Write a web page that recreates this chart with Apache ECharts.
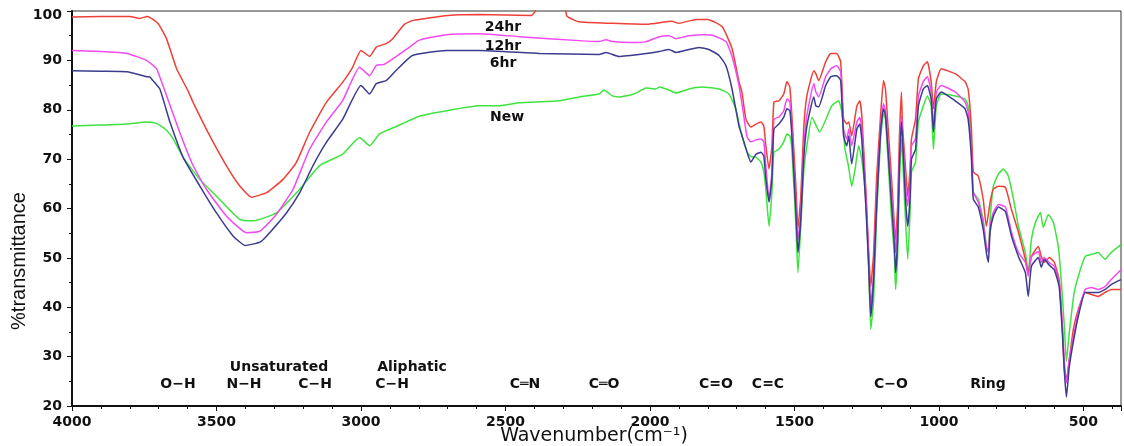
<!DOCTYPE html>
<html>
<head>
<meta charset="utf-8">
<script src="https://cdn.jsdelivr.net/npm/echarts@6/dist/echarts.min.js"></script>
<style>
  html, body { margin: 0; padding: 0; background: #fff; }
  #chart { width: 1124px; height: 446px; }
</style>
</head>
<body>
<div id="chart"></div>
<script>
// FTIR spectra: [wavenumber (cm-1), %transmittance]
const hr24 = [[4000,98.8],[3900,98.9],[3800,98.9],[3765,98.5],[3740,98.9],[3720,98.3],[3700,97.3],[3673,94.4],[3638,88.3],[3600,84.0],[3581,81.5],[3523,74.7],[3466,68.7],[3420,64.6],[3379,62.3],[3327,63.2],[3270,65.9],[3224,69.3],[3178,75.4],[3120,81.5],[3063,85.6],[3030,88.5],[3000,92.0],[2970,90.8],[2947,92.7],[2913,93.4],[2890,94.4],[2850,97.3],[2820,98.1],[2700,99.1],[2590,99.3],[2410,99.1],[2392,100.5],[2380,104],[2300,104],[2288,99.0],[2245,97.8],[2130,97.5],[2010,97.3],[1924,97.9],[1900,97.5],[1840,98.3],[1800,98.3],[1750,96.8],[1716,92.4],[1692,85.7],[1682,83.6],[1668,78.1],[1651,76.5],[1633,77.1],[1616,77.5],[1606,76.7],[1599,72.7],[1588,68.0],[1578,72.7],[1571,81.6],[1554,81.8],[1537,83.2],[1526,85.7],[1516,84.6],[1509,78.8],[1495,64.5],[1488,56.0],[1478,62.5],[1468,76.1],[1457,82.8],[1433,87.9],[1426,87.3],[1416,85.9],[1392,89.7],[1374,91.4],[1354,91.4],[1340,89.7],[1330,78.1],[1319,77.1],[1312,77.5],[1302,74.7],[1284,80.8],[1274,81.8],[1267,78.8],[1253,63.9],[1243,51.1],[1236,44.2],[1226,51.1],[1216,66.0],[1202,78.8],[1192,85.9],[1185,84.2],[1175,75.5],[1164,66.0],[1154,56.4],[1150,53.7],[1143,60.5],[1137,74.1],[1130,83.6],[1126,76.7],[1116,68.6],[1108,62.5],[1100,68.0],[1095,74.1],[1081,78.1],[1071,86.3],[1054,88.9],[1040,89.7],[1027,85.7],[1019,80.2],[1009,85.7],[992,88.3],[944,87.3],[910,85.7],[899,84.2],[888,76.7],[881,67.4],[864,66.6],[847,61.9],[836,56.4],[823,61.3],[812,63.9],[794,64.5],[770,64.3],[749,59.8],[725,55.2],[701,49.7],[691,47.0],[680,50.3],[656,52.3],[646,50.3],[635,49.1],[618,50.1],[601,49.1],[584,45.6],[573,36.1],[566,27.3],[559,25.3],[549,29.4],[535,35.5],[518,39.5],[494,43.0],[473,42.6],[449,42.2],[425,43.0],[404,43.6],[370,43.6]];

const hr12 = [[4000,92.0],[3900,91.8],[3810,91.4],[3742,90.0],[3720,89.0],[3707,88.3],[3673,82.9],[3627,75.4],[3581,68.7],[3535,63.9],[3466,58.5],[3396,55.1],[3350,55.4],[3293,58.8],[3235,63.9],[3178,72.0],[3120,77.5],[3063,81.9],[3005,88.6],[2970,86.9],[2947,89.0],[2920,89.2],[2890,90.3],[2832,92.7],[2798,94.1],[2704,95.2],[2590,95.4],[2452,94.8],[2245,94.0],[2176,93.8],[2152,94.2],[2130,93.8],[2062,93.6],[2013,93.8],[1968,94.8],[1934,95.0],[1910,94.4],[1865,95.0],[1813,95.2],[1779,95.0],[1737,93.8],[1716,90.8],[1692,84.9],[1678,79.8],[1664,74.5],[1651,73.5],[1633,73.9],[1616,74.1],[1606,73.5],[1599,68.6],[1588,61.9],[1578,67.4],[1571,78.1],[1554,78.5],[1537,79.8],[1526,82.2],[1516,81.6],[1509,76.1],[1495,60.5],[1488,53.7],[1478,59.2],[1468,72.0],[1457,78.8],[1433,85.3],[1426,83.6],[1416,82.6],[1392,86.7],[1374,88.3],[1354,88.9],[1340,87.7],[1330,76.1],[1319,74.1],[1312,76.1],[1302,72.7],[1284,77.5],[1274,78.5],[1267,76.0],[1253,62.5],[1243,50.0],[1236,40.1],[1226,47.0],[1216,62.0],[1202,76.7],[1192,81.2],[1185,79.8],[1175,72.0],[1164,63.0],[1154,55.2],[1150,51.1],[1143,57.2],[1137,70.0],[1130,78.8],[1126,75.5],[1116,65.0],[1108,60.5],[1100,66.0],[1095,72.7],[1081,74.1],[1071,82.8],[1054,85.7],[1040,86.7],[1027,83.6],[1019,76.7],[1009,83.6],[992,84.9],[944,83.6],[910,81.6],[899,79.6],[888,72.0],[881,63.3],[864,61.3],[847,57.2],[836,52.3],[829,51.1],[823,56.4],[812,59.2],[794,60.8],[770,60.3],[749,55.2],[725,51.1],[701,49.1],[691,46.3],[680,50.3],[656,51.3],[646,49.1],[635,50.1],[618,49.0],[601,48.3],[584,45.0],[573,36.1],[566,29.0],[559,24.7],[549,29.4],[535,34.0],[518,38.9],[494,43.6],[473,44.0],[449,43.6],[425,44.2],[404,45.6],[370,47.6]];

const hr6 = [[4000,87.9],[3900,87.8],[3810,87.7],[3742,86.7],[3730,86.6],[3720,85.9],[3696,84.2],[3661,77.5],[3615,70.3],[3558,64.6],[3500,59.1],[3442,54.4],[3400,52.5],[3350,53.2],[3327,54.4],[3258,59.1],[3212,63.2],[3166,68.7],[3120,73.4],[3063,78.1],[3000,84.9],[2970,83.2],[2947,85.3],[2913,85.9],[2878,88.0],[2822,91.0],[2704,92.0],[2590,92.0],[2383,91.4],[2176,91.2],[2152,91.6],[2107,90.8],[2013,91.4],[1968,91.8],[1934,92.2],[1910,91.6],[1865,92.2],[1830,92.6],[1796,92.2],[1761,91.0],[1737,88.9],[1716,84.2],[1692,76.7],[1680,74.5],[1664,71.4],[1651,69.4],[1633,71.0],[1616,71.4],[1606,70.6],[1599,66.0],[1588,61.3],[1578,66.0],[1571,76.1],[1554,77.1],[1537,78.5],[1526,80.2],[1516,79.8],[1509,74.7],[1495,59.2],[1488,51.1],[1478,57.8],[1468,70.0],[1457,76.7],[1433,82.6],[1426,80.8],[1416,80.6],[1392,84.9],[1374,86.7],[1354,86.9],[1340,85.9],[1330,74.7],[1319,72.7],[1312,74.7],[1302,69.0],[1284,76.1],[1274,77.1],[1267,74.0],[1253,60.5],[1243,48.0],[1236,38.1],[1226,45.6],[1216,60.0],[1202,75.5],[1192,80.2],[1185,78.8],[1175,70.6],[1164,61.0],[1154,52.3],[1150,47.0],[1143,53.7],[1137,68.0],[1130,77.5],[1126,74.1],[1116,62.0],[1108,56.4],[1100,62.0],[1095,70.0],[1081,72.0],[1071,80.8],[1054,84.2],[1040,84.9],[1027,82.2],[1019,75.5],[1009,82.2],[992,83.6],[944,81.8],[910,80.2],[899,78.1],[888,70.6],[881,61.9],[864,60.3],[847,55.8],[836,51.1],[829,49.1],[823,55.2],[812,58.4],[794,60.3],[770,59.4],[749,54.4],[725,50.3],[701,47.0],[691,42.2],[680,48.3],[656,50.1],[646,48.1],[635,49.7],[618,48.5],[601,47.6],[584,44.2],[573,34.8],[566,27.0],[559,21.8],[549,27.9],[535,33.0],[518,38.1],[494,43.0],[473,43.0],[449,43.0],[425,43.6],[404,44.6],[370,45.6]];

const fresh = [[4000,76.7],[3900,76.9],[3810,77.1],[3742,77.5],[3720,77.4],[3700,77.0],[3672,75.8],[3650,74.1],[3615,70.3],[3558,65.9],[3500,62.5],[3420,57.8],[3373,57.5],[3293,59.1],[3212,63.9],[3143,68.7],[3063,71.0],[3005,74.4],[2970,72.7],[2936,75.1],[2878,76.6],[2798,78.7],[2704,79.8],[2590,80.8],[2521,80.8],[2452,81.4],[2314,81.8],[2245,82.6],[2176,83.2],[2159,84.0],[2130,82.8],[2107,82.6],[2055,83.2],[2013,84.4],[1979,84.2],[1968,84.6],[1934,84.0],[1910,83.4],[1865,84.2],[1820,84.6],[1761,84.2],[1727,83.2],[1703,80.2],[1682,74.7],[1664,71.5],[1651,70.5],[1633,70.4],[1616,69.4],[1606,67.4],[1599,63.9],[1588,56.4],[1578,63.3],[1571,71.4],[1554,72.0],[1537,73.5],[1526,75.1],[1516,74.7],[1509,72.0],[1495,56.4],[1488,47.0],[1478,56.4],[1468,67.4],[1457,72.7],[1439,78.5],[1413,75.5],[1371,80.8],[1347,81.8],[1336,79.5],[1325,72.0],[1313,68.6],[1302,64.5],[1290,68.0],[1278,72.7],[1267,70.0],[1253,61.9],[1243,48.0],[1236,35.5],[1226,41.5],[1216,58.0],[1202,74.1],[1192,79.2],[1185,78.1],[1175,68.6],[1164,58.0],[1154,50.3],[1150,43.6],[1143,50.3],[1137,65.0],[1130,74.1],[1126,70.6],[1116,58.0],[1108,49.7],[1100,59.2],[1095,67.4],[1081,69.4],[1071,77.5],[1054,80.8],[1040,82.8],[1027,80.8],[1019,72.0],[1009,80.8],[992,83.2],[944,82.8],[910,82.2],[899,80.8],[888,74.1],[881,63.3],[864,61.9],[847,57.8],[836,52.3],[829,51.1],[823,57.8],[812,64.5],[794,67.0],[777,68.0],[760,66.6],[742,61.9],[725,56.4],[701,51.1],[691,47.0],[680,53.7],[666,57.2],[649,59.2],[639,56.2],[621,58.8],[604,57.2],[587,52.3],[577,45.6],[566,36.1],[559,29.0],[549,34.8],[532,43.0],[514,47.0],[494,50.3],[473,50.7],[449,51.1],[425,49.7],[404,51.1],[370,52.7]];

const seriesNames = ['New', '24hr', '12hr', '6hr'];
const seriesColors = ['#3ee43e', '#ee4038', '#f24af2', '#3b3b8f'];
const seriesData = [fresh, hr24, hr12, hr6];

// band assignments drawn along the bottom of the plot: [text, row]
const bandLabels = [['O\u2212H', 2], ['Unsaturated', 1], ['N\u2212H', 2], ['C\u2212H', 2], ['Aliphatic', 1], ['C\u2212H', 2], ['C\u2550N', 2], ['C\u2550O', 2], ['C=O', 2], ['C=C', 2], ['C\u2212O', 2], ['Ring', 2]];
const bandLabelX = [178, 279, 244, 315, 412, 392, 525, 604, 716, 768, 891, 988];

// wavenumber axis runs from 4000 down to 370
const WN_START = 4000, WN_END = 370;
const toAxis = w => WN_START - w;

const chart = echarts.init(document.getElementById('chart'), null, { renderer: 'canvas' });

const labelFont = 'DejaVu Sans, Verdana, sans-serif';

const graphics = [];
graphics.push({
  type: 'text', x: 19, y: 261, rotation: Math.PI / 2,
  style: { text: '%transmittance', font: '20px "Liberation Sans", Arial, sans-serif', fill: '#111', textAlign: 'center', textVerticalAlign: 'middle' }
});
graphics.push({
  type: 'text', x: 594, y: 436,
  style: { text: 'Wavenumber(cm\u207B\u00B9)', font: '19px ' + labelFont, fill: '#111', textAlign: 'center', textVerticalAlign: 'middle' }
});
const curveTags = [['24hr', 503, 27], ['12hr', 503, 46], ['6hr', 503, 63], ['New', 507, 117]];
curveTags.forEach(t => graphics.push({
  type: 'text', x: t[1], y: t[2],
  style: { text: t[0], font: 'bold 14px ' + labelFont, fill: '#111', textAlign: 'center', textVerticalAlign: 'middle' }
}));
bandLabels.forEach((b, i) => graphics.push({
  type: 'text', x: bandLabelX[i], y: b[1] === 1 ? 367 : 384,
  style: { text: b[0], font: 'bold 14px ' + labelFont, fill: '#111', textAlign: 'center', textVerticalAlign: 'middle' }
}));

chart.setOption({
  animation: false,
  backgroundColor: '#fff',
  grid: { left: 72, right: 2, top: 11, bottom: 40, show: true, borderColor: '#333', borderWidth: 1, backgroundColor: 'transparent' },
  xAxis: {
    type: 'value',
    min: 0, max: WN_START - WN_END, interval: 500,
    axisLine: { onZero: false, lineStyle: { color: '#111', width: 2 } },
    axisTick: { show: true, inside: false, length: 5, lineStyle: { color: '#111', width: 1 } },
    minorTick: { show: true, splitNumber: 5, length: 3, lineStyle: { color: '#111', width: 1 } },
    splitLine: { show: false },
    axisLabel: {
      margin: 9, color: '#111', fontFamily: labelFont, fontWeight: 'bold', fontSize: 14,
      formatter: v => (v % 500 === 0 ? String(WN_START - v) : '')
    }
  },
  yAxis: {
    type: 'value', min: 20, max: 100, interval: 10,
    axisLine: { show: true, lineStyle: { color: '#111', width: 2 } },
    axisTick: { show: true, inside: false, length: 5, lineStyle: { color: '#111', width: 1 } },
    minorTick: { show: true, splitNumber: 2, length: 3, lineStyle: { color: '#111', width: 1 } },
    splitLine: { show: false },
    axisLabel: {
      margin: 10, color: '#111', fontFamily: labelFont, fontWeight: 'bold', fontSize: 14,
      formatter: v => (v === 100 ? '{top|100}' : String(v)),
      rich: { top: { padding: [8, 0, 0, 0], fontFamily: labelFont, fontWeight: 'bold', fontSize: 14, color: '#111' } }
    }
  },
  series: seriesData.map((d, i) => ({
    name: seriesNames[i],
    type: 'line',
    data: d.map(p => [toAxis(p[0]), p[1]]),
    showSymbol: false,
    smooth: 0.15,
    clip: true,
    lineStyle: { color: seriesColors[i], width: 1.5 },
    itemStyle: { color: seriesColors[i] },
    z: 2 + i
  })),
  graphic: graphics
});
</script>
</body>
</html>
